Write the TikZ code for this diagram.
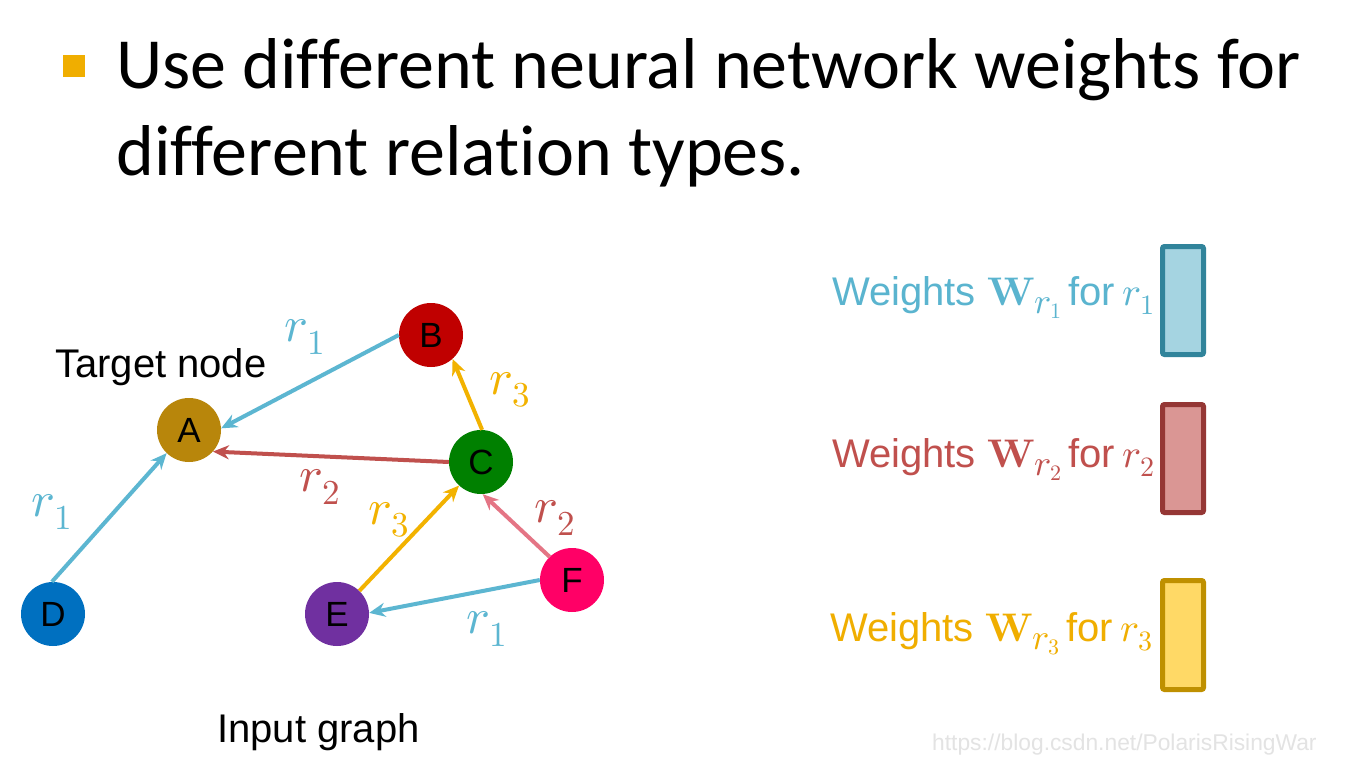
\documentclass[tikz,border=0pt]{standalone}
\usepackage{unicode-math}
\setmainfont{Liberation Sans}
\setmathfont{Latin Modern Math}
\newfontfamily\titlefont[Ligatures=NoCommon]{Carlito}
\usetikzlibrary{arrows.meta}

\newcommand{\wsub}[1]{\raisebox{-8pt}{\fontsize{36}{36}\selectfont$r$\kern-1pt\raisebox{-5pt}{\fontsize{22}{22}\selectfont$#1$}}}
\newcommand{\wline}[1]{Weights $\symbf{W}$\wsub{#1}\hspace{7pt}for\hspace{7pt}$r_{#1}$}

\definecolor{bulletc}{HTML}{F0AE00}
\definecolor{nA}{HTML}{B8860B}
\definecolor{nB}{HTML}{C00000}
\definecolor{nC}{HTML}{008000}
\definecolor{nD}{HTML}{0070C0}
\definecolor{nE}{HTML}{7030A0}
\definecolor{nF}{HTML}{FF0066}
\definecolor{eblue}{HTML}{5CB6D1}
\definecolor{ered}{HTML}{C0504D}
\definecolor{epink}{HTML}{E47585}
\definecolor{eyellow}{HTML}{F2B200}
\definecolor{tblue}{HTML}{5AB4CF}
\definecolor{tred}{HTML}{C0504D}
\definecolor{tyellow}{HTML}{F0AE00}
\definecolor{bblueF}{HTML}{A5D4E1}
\definecolor{bblueD}{HTML}{31849B}
\definecolor{bredF}{HTML}{DA9694}
\definecolor{bredD}{HTML}{953735}
\definecolor{byelF}{HTML}{FFD966}
\definecolor{byelD}{HTML}{BF9000}
\definecolor{wmark}{HTML}{E3E3E3}

\tikzset{
  gnode/.style={circle, minimum size=64pt, inner sep=0pt, text=black,
    font=\fontsize{35}{35}\selectfont},
  edge/.style={line width=4pt, -{Stealth[length=16pt,width=14pt]}},
  rlabel/.style={inner sep=0pt, font=\fontsize{50}{50}\selectfont},
  wtext/.style={anchor=base west, inner sep=0pt, font=\fontsize{40}{40}\selectfont},
  wbox/.style={line width=5pt, rounded corners=2pt},
  plain/.style={anchor=base west, inner sep=0pt, font=\fontsize{40}{40}\selectfont},
  ttl/.style={anchor=base west, inner sep=0pt, font=\titlefont\fontsize{72}{72}\selectfont}
}

\begin{document}
\begin{tikzpicture}[x=1pt,y=-1pt]
\path[use as bounding box, fill=white] (0,0) rectangle (1348,766);

% title
\fill[bulletc] (63,55) rectangle (85,77);
\node[ttl] (t1) at (116,88) {Use different neural network weights for};
\node[ttl] (t2) at (116,175) {different relation types.};

% graph nodes
\node[gnode, fill=nA] (A) at (189,430) {A};
\node[gnode, fill=nB] (B) at (431,335) {B};
\node[gnode, fill=nC] (C) at (481,462) {C};
\node[gnode, fill=nD] (D) at (53,614) {D};
\node[gnode, fill=nE] (E) at (337,614) {E};
\node[gnode, fill=nF] (F) at (572,580) {F};

\node[plain] (target) at (55,377) {Target node};
\node[plain] (input) at (217,742) {Input graph};

% edges
\draw[edge, eblue] (B.180) -- (A.3);
\draw[edge, ered] (C.180) -- (A.-42);
\draw[edge, eyellow] (C.88) -- (B.-48);
\draw[edge, eblue] (D.92) -- (A.226);
\draw[edge, eyellow] (E.46) -- (C.227);
\draw[edge, epink] (F.134) -- (C.-87);
\draw[edge, eblue] (F.180) -- (E.2);

% edge labels
\node[rlabel, text=eblue] (l1) at (305,337) {$r_1$};
\node[rlabel, text=eyellow] (l2) at (510,390) {$r_3$};
\node[rlabel, text=ered] (l3) at (320,487) {$r_2$};
\node[rlabel, text=eblue] (l4) at (52,512) {$r_1$};
\node[rlabel, text=eyellow] (l5) at (389,520) {$r_3$};
\node[rlabel, text=ered] (l6) at (555,518) {$r_2$};
\node[rlabel, text=eblue] (l7) at (487,629) {$r_1$};

% weights
\node[wtext, text=tblue] (w1) at (832,305) {\wline{1}};
\node[wtext, text=tred] (w2) at (832,467) {\wline{2}};
\node[wtext, text=tyellow] (w3) at (830,641) {\wline{3}};

\draw[wbox, draw=bblueD, fill=bblueF] (1162.5,246.5) rectangle (1203.5,354.5);
\draw[wbox, draw=bredD, fill=bredF] (1162.5,404.5) rectangle (1203.5,512.5);
\draw[wbox, draw=byelD, fill=byelF] (1162.5,580.5) rectangle (1203.5,689.5);

% watermark
\node[anchor=base west, inner sep=0pt, text=wmark, font=\fontsize{22.8}{22.8}\selectfont] (wm) at (932,750) {https://blog.csdn.net/PolarisRisingWar};
\end{tikzpicture}
\end{document}
